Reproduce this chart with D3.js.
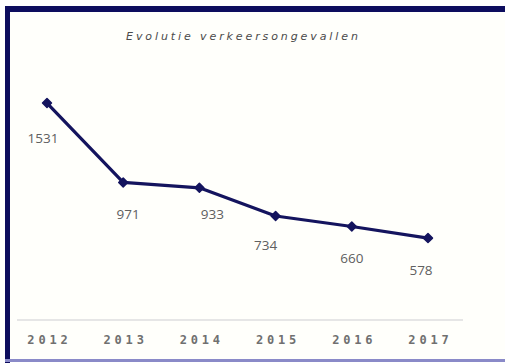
<!DOCTYPE html>
<html><head><meta charset="utf-8">
<script src="https://cdn.jsdelivr.net/npm/d3@7"></script>
<style>
html,body{margin:0;padding:0;background:#fff;}
svg{display:block;}
</style></head>
<body>
<svg id="chart" width="505" height="364"></svg>
<script>
const categories = ["2012","2013","2014","2015","2016","2017"];
const values = [1531, 971, 933, 734, 660, 578];
const valueLabels = ["1531","971","933","734","660","578"];
const labelNudgeX = [-4, 5, 13, -10, 0, -7];
const labelNudgeY = [35, 32, 26, 29, 32, 32];
const title = "Evolutie verkeersongevallen";

const svg = d3.select("#chart");
// frame
svg.append("rect").attr("x",0).attr("y",0).attr("width",505).attr("height",364).attr("fill","#fff");
svg.append("rect").attr("x",5).attr("y",6).attr("width",500).attr("height",6).attr("fill","#0d0d5e");
svg.append("rect").attr("x",5).attr("y",6).attr("width",5).attr("height",357).attr("fill","#0d0d5e");
svg.append("rect").attr("x",5).attr("y",359).attr("width",500).attr("height",3).attr("fill","#8a8ac8");
svg.append("rect").attr("x",10).attr("y",12).attr("width",495).attr("height",347).attr("fill","#fffffb");

const x = d3.scalePoint().domain(categories).range([47, 428]);
const y = d3.scaleLinear().domain([0, 1600]).range([320, 93.3]);

// title
const ls = 2.9;
svg.append("text").attr("x",242 + ls/2).attr("y",40).attr("text-anchor","middle")
  .attr("font-family","DejaVu Sans").attr("font-style","italic").attr("font-size",11)
  .attr("letter-spacing",ls).attr("fill","#4a4a4a").text(title);

// axis
const yls = 3.8;
const axis = d3.axisBottom(x).tickSize(0).tickPadding(14);
const g = svg.append("g").attr("transform","translate(0,320)").call(axis);
g.select(".domain").attr("d","M17,0H463").attr("stroke","#e6e6e6").attr("stroke-width",2);
g.selectAll("text").attr("font-family","DejaVu Sans Mono").attr("font-weight","bold")
  .attr("font-size",12).attr("letter-spacing",yls).attr("fill","#707070").attr("dy","0.35em")
  .attr("dx",yls/2).attr("y",20);

// line
const line = d3.line().x((d,i)=>x(categories[i])).y(d=>y(d));
svg.append("path").datum(values).attr("d",line).attr("fill","none")
  .attr("stroke","#14145e").attr("stroke-width",3.2).attr("stroke-linejoin","round");

// markers
const sym = d3.symbol().type(d3.symbolSquare).size(40);
svg.selectAll(".m").data(values).enter().append("path")
  .attr("d",sym).attr("fill","#14145e").attr("stroke","#14145e").attr("stroke-width",1.5)
  .attr("stroke-linejoin","round")
  .attr("transform",(d,i)=>`translate(${x(categories[i])},${y(d)}) rotate(45)`);

// value labels
svg.selectAll(".v").data(values).enter().append("text")
  .attr("x",(d,i)=>x(categories[i])+labelNudgeX[i])
  .attr("y",(d,i)=>y(d)+labelNudgeY[i])
  .attr("dy","0.35em").attr("text-anchor","middle")
  .attr("font-family","Open Sans").attr("font-size",13.5).attr("fill","#606060")
  .text((d,i)=>valueLabels[i]);
</script>
</body></html>
